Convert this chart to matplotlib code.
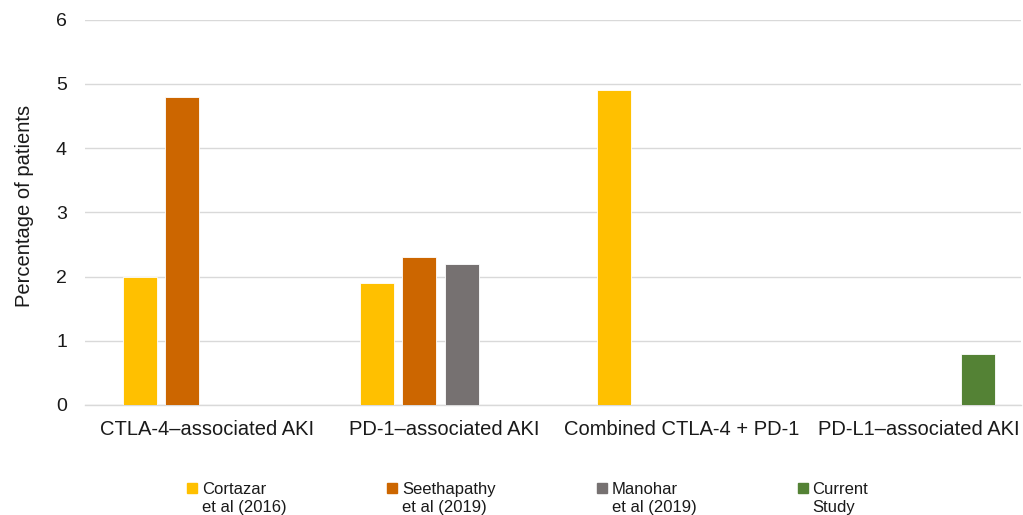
import matplotlib
matplotlib.use("Agg")
import matplotlib.pyplot as plt
import matplotlib.patches as mpatches
from matplotlib.legend_handler import HandlerPatch
import numpy as np

plt.rcParams['font.family'] = ['Liberation Sans', 'DejaVu Sans']

categories = ["CTLA-4–associated AKI", "PD-1–associated AKI",
              "Combined CTLA-4 + PD-1", "PD-L1–associated AKI"]
series_names = ["Cortazar\net al (2016)", "Seethapathy\net al (2019)",
                "Manohar\net al (2019)", "Current\nStudy"]
cortazar = [2.0, 1.9, 4.9, np.nan]
seethapathy = [4.8, 2.3, np.nan, np.nan]
manohar = [np.nan, 2.2, np.nan, np.nan]
current = [np.nan, np.nan, np.nan, 0.8]
series = [cortazar, seethapathy, manohar, current]
colors = ["#FFC000", "#CC6600", "#767171", "#548235"]
yticks = [0, 1, 2, 3, 4, 5, 6]

fig = plt.figure(figsize=(10.23, 5.15), dpi=100)
ax = fig.add_axes([0.0831, 0.2136, 0.998 - 0.0831, 0.962 - 0.2136])

x = np.arange(len(categories))
step = 0.1785
width = 0.1435
handles = []
for i, (vals, c, name) in enumerate(zip(series, colors, series_names)):
    off = (i - 1.5) * step
    ax.bar(x + off, vals, width=width, color=c, edgecolor="white",
           linewidth=0.6, zorder=3)
    handles.append(mpatches.Patch(color=c, label=name))

ax.set_xlim(-0.5, 3.45)
ax.set_ylim(0, 6)
ax.set_yticks(yticks)
ax.set_xticks(x + 0.017)
ax.set_xticklabels(categories, fontsize=14.5, color="#1a1a1a")
ax.tick_params(axis='y', labelsize=14, colors="#1a1a1a", length=0, pad=13)
ax.tick_params(axis='x', length=0, pad=11)
ax.grid(axis='y', color="#D9D9D9", linewidth=1.0, zorder=0)
for s in ["top", "right", "left"]:
    ax.spines[s].set_visible(False)
ax.spines["bottom"].set_color("#D9D9D9")
ax.spines["bottom"].set_linewidth(1.0)
ax.set_ylabel("Percentage of patients", fontsize=14.5, color="#1a1a1a")
ax.yaxis.set_label_coords(-0.055, 0.516)


def top_square(legend, orig_handle, xdescent, ydescent, width, height, fontsize):
    s = 0.6 * fontsize
    return mpatches.Rectangle((-xdescent, height + 0.6 * fontsize - ydescent - s), s, s)


leg = fig.legend(handles=handles, ncol=4, loc="lower left",
                 bbox_to_anchor=(187 / 1023, 0.0), frameon=False, fontsize=12,
                 borderpad=0, borderaxespad=0,
                 handlelength=0.6, handleheight=0.6, handletextpad=0.3,
                 columnspacing=6.05,
                 handler_map={mpatches.Patch: HandlerPatch(patch_func=top_square)})
for t in leg.get_texts():
    t.set_color("#1a1a1a")
    t.set_linespacing(1.25)

fig.savefig("out.png", dpi=100)
